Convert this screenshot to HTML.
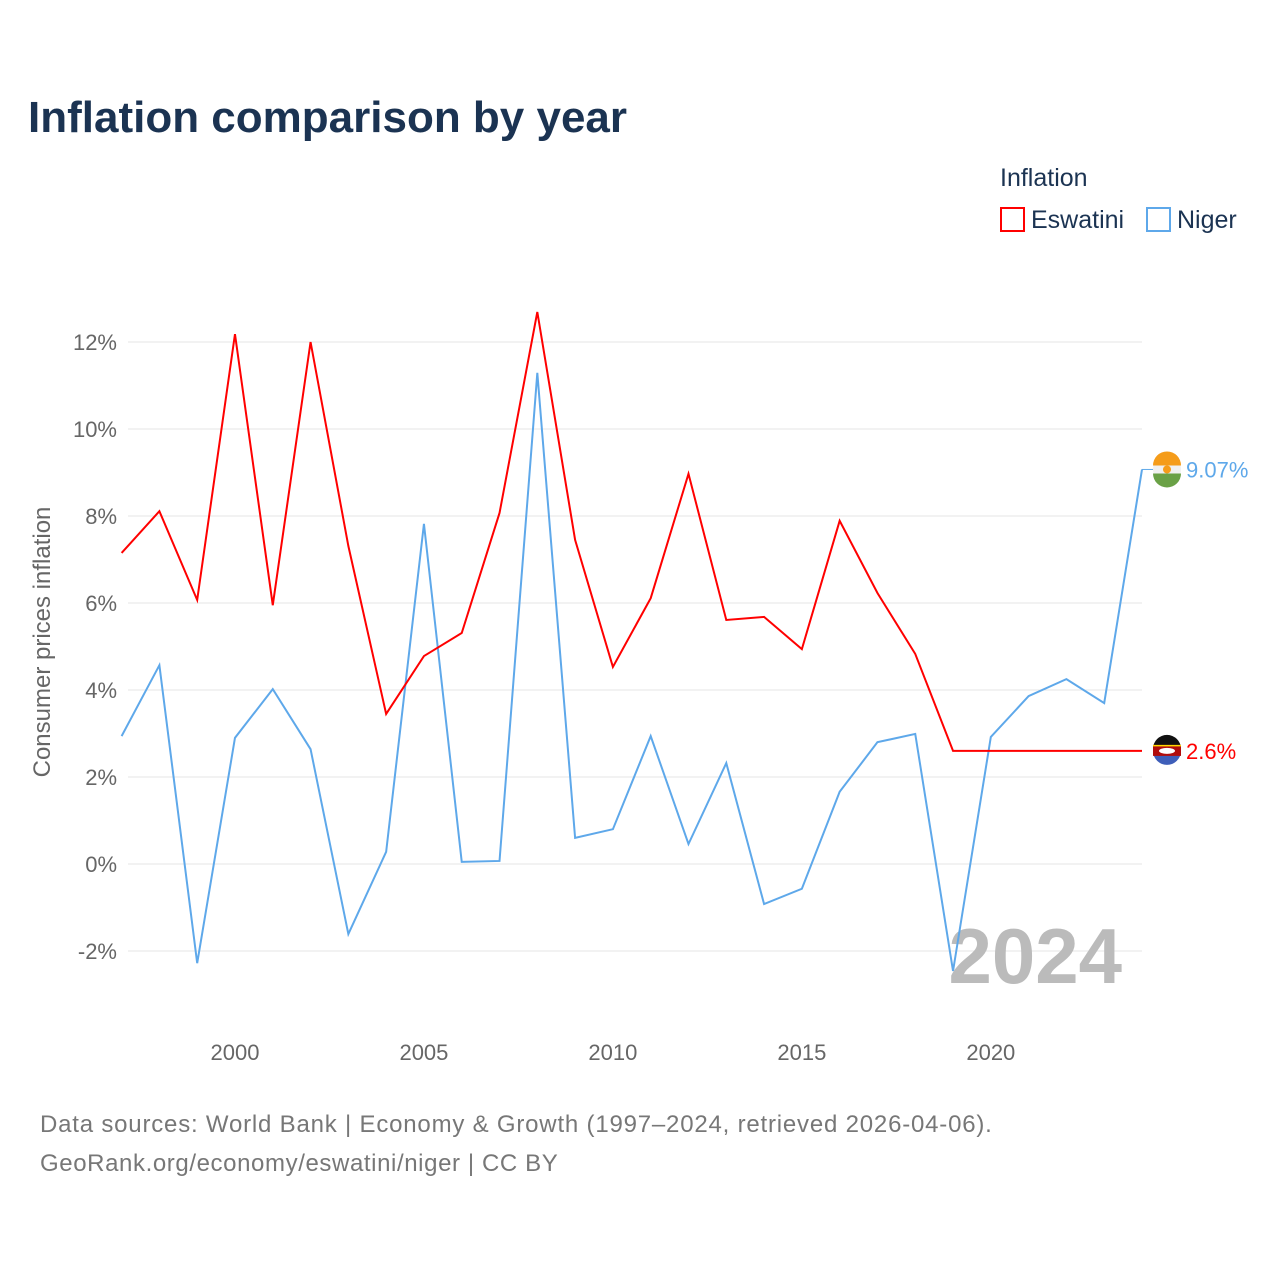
<!DOCTYPE html>
<html><head><meta charset="utf-8">
<style>
body{margin:0;background:#fff;}
svg text{font-family:"Liberation Sans",sans-serif;}
</style></head>
<body>
<svg id="chart" width="1280" height="1280" viewBox="0 0 1280 1280" xmlns="http://www.w3.org/2000/svg">
<text x="28" y="132" font-size="44" font-weight="bold" fill="#1b3352">Inflation comparison by year</text>
<text x="1000" y="186" font-size="25" fill="#1b3352">Inflation</text>
<g>
<rect x="1001" y="208" width="23" height="23" fill="none" stroke="#ff0000" stroke-width="2"/>
<text x="1031" y="228" font-size="25" fill="#1b3352">Eswatini</text></g>
<g>
<rect x="1147" y="208" width="23" height="23" fill="none" stroke="#5ea8ea" stroke-width="2"/>
<text x="1177" y="228" font-size="25" fill="#1b3352">Niger</text></g>
<text transform="translate(50,642) rotate(-90)" text-anchor="middle" font-size="24" fill="#666">Consumer prices inflation</text>
<g id="grid"></g><g id="xticks"></g>
<text x="1122" y="983" text-anchor="end" font-size="78" font-weight="bold" fill="#bbb">2024</text>
<g id="series"></g>
<text x="40" y="1132" font-size="24" fill="#777" letter-spacing="0.8">Data sources: World Bank | Economy &amp; Growth (1997–2024, retrieved 2026-04-06).</text>
<text x="40" y="1171" font-size="24" fill="#777" letter-spacing="0.6">GeoRank.org/economy/eswatini/niger | CC BY</text>
</svg>
<script>
const years=[1997,1998,1999,2000,2001,2002,2003,2004,2005,2006,2007,2008,2009,2010,2011,2012,2013,2014,2015,2016,2017,2018,2019,2020,2021,2022,2023,2024];
const eswatini=[7.15,8.11,6.07,12.18,5.95,12.0,7.31,3.45,4.78,5.31,8.07,12.69,7.45,4.53,6.11,8.97,5.61,5.68,4.94,7.89,6.23,4.83,2.6,2.6,2.6,2.6,2.6,2.6];
const niger=[2.94,4.57,-2.28,2.90,4.02,2.64,-1.61,0.28,7.82,0.05,0.07,11.29,0.60,0.80,2.94,0.46,2.32,-0.92,-0.57,1.66,2.80,2.99,-2.46,2.92,3.86,4.25,3.70,9.07];
const yTicks=[-2,0,2,4,6,8,10,12];
const xTicks=[2000,2005,2010,2015,2020];
const NS="http://www.w3.org/2000/svg";
const X=y=>121.6+(y-1997)*(1142-121.6)/27;
const Y=v=>864-v*43.5;
function mk(tag,attrs,parent){const e=document.createElementNS(NS,tag);for(const k in attrs)e.setAttribute(k,attrs[k]);parent.appendChild(e);return e;}
const grid=document.getElementById('grid');
yTicks.forEach(t=>{
  const l=mk('line',{x1:128,x2:1142,y1:Y(t),y2:Y(t),stroke:'#e6e6e6','stroke-width':1},grid);
  
  
  const tx=mk('text',{x:117,y:Y(t)+8,'text-anchor':'end','font-size':22,fill:'#666'},grid);
  tx.textContent=t+'%';
  
  
});
const xg=document.getElementById('xticks');
xTicks.forEach(t=>{
  const tx=mk('text',{x:X(t),y:1060,'text-anchor':'middle','font-size':22,fill:'#666'},xg);
  tx.textContent=t;
  
  
});
const sg=document.getElementById('series');
function line(vals,color,name){
  const p=mk('polyline',{points:vals.map((v,i)=>X(years[i])+','+Y(v)).join(' '),fill:'none',stroke:color,'stroke-width':2,'stroke-linejoin':'miter'},sg);
  
  
}
line(niger,'#5ea8ea','niger-line');
line(eswatini,'#ff0000','eswatini-line');
const nv=niger[niger.length-1], ev=eswatini[eswatini.length-1];
const ng=mk('g',{},sg);


mk('line',{x1:1142,x2:1153,y1:Y(nv),y2:Y(nv),stroke:'#5ea8ea','stroke-width':1},ng);
mk('circle',{cx:1167,cy:Y(nv),r:14,fill:'#f0f0f0'},ng);
mk('path',{d:`M1153 ${Y(nv)-4} A14 14 0 0 1 1181 ${Y(nv)-4} Z`,fill:'#f59c1a'},ng);
mk('path',{d:`M1153 ${Y(nv)+4} A14 14 0 0 0 1181 ${Y(nv)+4} Z`,fill:'#6aa146'},ng);
mk('circle',{cx:1167,cy:Y(nv),r:4,fill:'#f59c1a'},ng);
const nt=mk('text',{x:1186,y:Y(nv)+8,'font-size':22,fill:'#5ea8ea'},ng);nt.textContent=nv.toFixed(2)+'%';
const eg=mk('g',{},sg);


const ey=Y(ev);
mk('circle',{cx:1167,cy:ey,r:14,fill:'#3e5eb9'},eg);
mk('path',{d:`M1153 ${ey-2} A14 14 0 0 1 1181 ${ey-2} Z`,fill:'#111'},eg);
mk('rect',{x:1153,y:ey-6,width:28,height:11,fill:'#b10c0c'},eg);
mk('rect',{x:1153,y:ey-6,width:28,height:1.5,fill:'#ffd900'},eg);
mk('ellipse',{cx:1167,cy:ey,rx:8,ry:3,fill:'#fff'},eg);
const et=mk('text',{x:1186,y:ey+8,'font-size':22,fill:'#ff0000'},eg);et.textContent=ev.toFixed(1)+'%';
</script>
</body></html>
